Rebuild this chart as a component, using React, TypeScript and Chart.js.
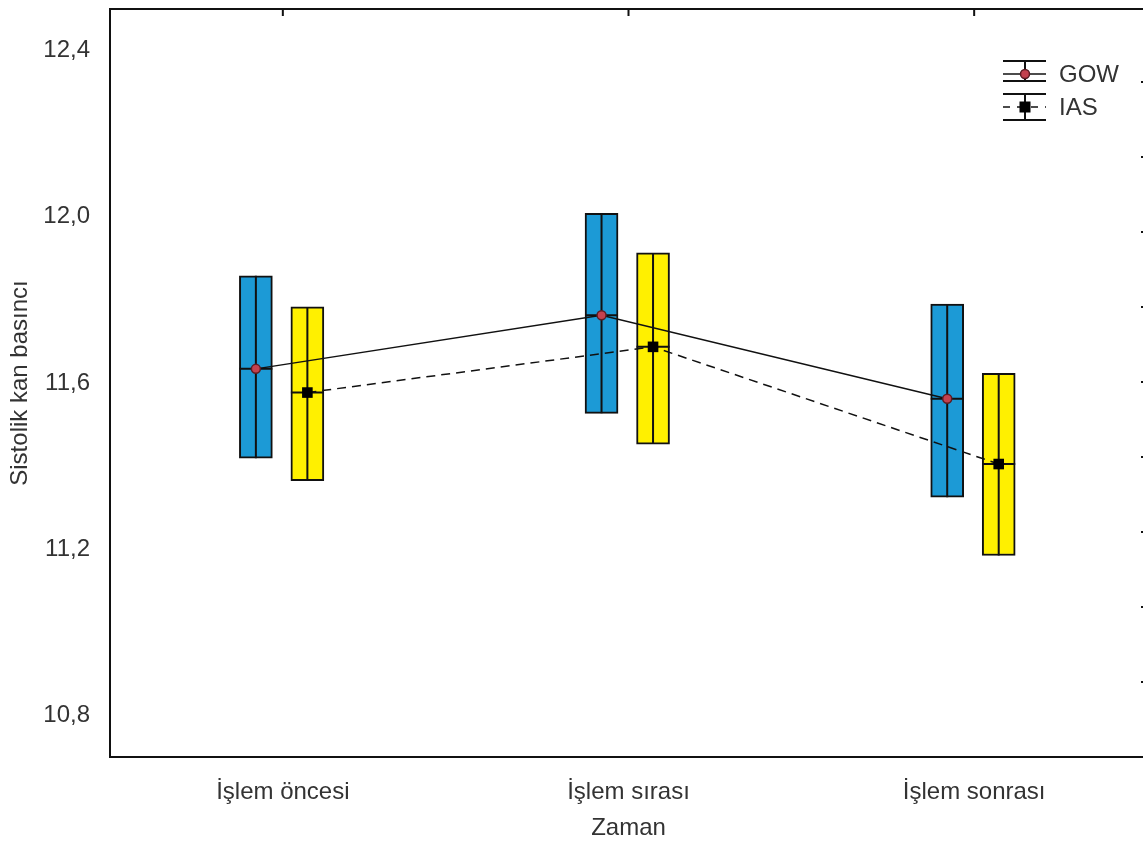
import React, { useEffect, useRef } from 'react';
import { Chart, registerables } from 'chart.js';

Chart.register(...registerables);

// ---- data ----
const categories = ['İşlem öncesi', 'İşlem sırası', 'İşlem sonrası'];
const seriesNames = ['GOW', 'IAS'];
const gowMean = [11.634, 11.763, 11.562];
const gowLow = [11.419, 11.527, 11.325];
const gowHigh = [11.858, 12.008, 11.79];
const iasMean = [11.577, 11.687, 11.405];
const iasLow = [11.365, 11.453, 11.185];
const iasHigh = [11.783, 11.913, 11.623];
const yTicks = [10.8, 11.2, 11.6, 12.0, 12.4];
const rightTicks = [1, 2, 3, 4, 5, 6, 7, 8, 9];
const yTitle = 'Sistolik kan basıncı';
const xTitle = 'Zaman';

// ---- style ----
const FONT = "'Liberation Sans', Arial, Helvetica, sans-serif";
const TEXT = '#333333';
const BLUE = '#1c9ad6';
const YELLOW = '#fff000';
const RED_DOT = '#c4414e';
const OFF_GOW = -0.078;
const OFF_IAS = 0.071;
const CW = 1160;
const CH = 846;

const means = [gowMean, iasMean];

const decorPlugin = {
  id: 'decor',
  afterDatasetDraw(chart: any, args: any) {
    const meta = args.meta;
    if (meta.type !== 'bar') return;
    const ctx = chart.ctx;
    const y = chart.scales.y;
    const m = means[args.index];
    ctx.save();
    ctx.strokeStyle = '#111';
    ctx.lineWidth = 2;
    meta.data.forEach((el: any, i: number) => {
      const p = el.getProps(['x', 'y', 'base', 'width'], true);
      const half = p.width / 2;
      ctx.beginPath();
      ctx.moveTo(p.x, Math.min(p.y, p.base));
      ctx.lineTo(p.x, Math.max(p.y, p.base));
      const my = y.getPixelForValue(m[i]);
      ctx.moveTo(p.x - half, my);
      ctx.lineTo(p.x + half, my);
      ctx.stroke();
    });
    ctx.restore();
  },
  afterDraw(chart: any) {
    const ctx = chart.ctx;
    const a = chart.chartArea;
    const xs = chart.scales.x;
    const y2 = chart.scales.y2;
    ctx.save();
    // frame
    ctx.strokeStyle = '#111';
    ctx.lineWidth = 2;
    ctx.strokeRect(a.left, a.top, a.right - a.left, a.bottom - a.top);
    // top ticks
    ctx.beginPath();
    categories.forEach((_, i) => {
      const px = xs.getPixelForValue(i);
      ctx.moveTo(px, a.top);
      ctx.lineTo(px, a.top + 7);
    });
    // right ticks
    if (y2) {
      rightTicks.forEach((v) => {
        const py = y2.getPixelForValue(v);
        ctx.moveTo(a.right, py);
        ctx.lineTo(a.right - 6, py);
      });
    }
    ctx.stroke();

    // legend
    const lx0 = 1003;
    const lx1 = 1046;
    const lc = 1025;
    const rows = [
      { top: 61, mid: 74, bot: 81 },
      { top: 94, mid: 107, bot: 120 },
    ];
    ctx.lineWidth = 2;
    ctx.strokeStyle = '#111';
    rows.forEach((r, k) => {
      ctx.setLineDash([]);
      ctx.beginPath();
      ctx.moveTo(lx0, r.top);
      ctx.lineTo(lx1, r.top);
      ctx.moveTo(lx0, r.bot);
      ctx.lineTo(lx1, r.bot);
      ctx.moveTo(lc, r.top);
      ctx.lineTo(lc, r.bot);
      ctx.stroke();
      ctx.beginPath();
      if (k === 1) ctx.setLineDash([7, 7]);
      ctx.lineWidth = 1.5;
      ctx.moveTo(lx0, r.mid);
      ctx.lineTo(lx1, r.mid);
      ctx.stroke();
      ctx.setLineDash([]);
      ctx.lineWidth = 2;
      if (k === 0) {
        ctx.beginPath();
        ctx.arc(lc, r.mid, 4.5, 0, Math.PI * 2);
        ctx.fillStyle = RED_DOT;
        ctx.fill();
        ctx.lineWidth = 1.5;
        ctx.strokeStyle = '#5c1b22';
        ctx.stroke();
        ctx.strokeStyle = '#111';
        ctx.lineWidth = 2;
      } else {
        ctx.fillStyle = '#000';
        ctx.fillRect(lc - 5.5, r.mid - 5.5, 11, 11);
      }
      ctx.fillStyle = TEXT;
      ctx.font = `24px ${FONT}`;
      ctx.textAlign = 'left';
      ctx.textBaseline = 'middle';
      ctx.fillText(seriesNames[k], 1059, r.mid + 1);
    });
    ctx.restore();
  },
};

export default function App() {
  const ref = useRef<HTMLCanvasElement | null>(null);

  useEffect(() => {
    document.body.style.margin = '0';
    document.body.style.overflow = 'hidden';
    const canvas = ref.current;
    if (!canvas) return;
    const chart = new Chart(canvas, {
      type: 'bar',
      data: {
        datasets: [
          {
            type: 'bar',
            label: 'GOW box',
            data: categories.map((_, i) => ({ x: i + OFF_GOW, y: [gowLow[i], gowHigh[i]] })) as any,
            backgroundColor: BLUE,
            borderColor: '#111',
            borderWidth: 2,
            borderSkipped: false,
            barThickness: 33,
            grouped: false,
            order: 2,
          } as any,
          {
            type: 'bar',
            label: 'IAS box',
            data: categories.map((_, i) => ({ x: i + OFF_IAS, y: [iasLow[i], iasHigh[i]] })) as any,
            backgroundColor: YELLOW,
            borderColor: '#111',
            borderWidth: 2,
            borderSkipped: false,
            barThickness: 33,
            grouped: false,
            order: 2,
          } as any,
          {
            type: 'line',
            label: seriesNames[0],
            data: categories.map((_, i) => ({ x: i + OFF_GOW, y: gowMean[i] })),
            borderColor: '#111',
            borderWidth: 1.5,
            tension: 0,
            pointStyle: 'circle',
            pointRadius: 4.5,
            pointBackgroundColor: RED_DOT,
            pointBorderColor: '#5c1b22',
            pointBorderWidth: 1.5,
            order: 1,
          } as any,
          {
            type: 'line',
            label: seriesNames[1],
            data: categories.map((_, i) => ({ x: i + OFF_IAS, y: iasMean[i] })),
            borderColor: '#111',
            borderWidth: 1.5,
            borderDash: [9, 6],
            tension: 0,
            pointStyle: 'rect',
            pointRadius: 7.5,
            pointBackgroundColor: '#000',
            pointBorderColor: '#000',
            pointBorderWidth: 0,
            order: 1,
          } as any,
        ],
      },
      options: {
        animation: false,
        responsive: false,
        devicePixelRatio: 1,
        layout: { padding: { top: 9, right: 13, left: 0, bottom: 0 } },
        plugins: { legend: { display: false }, tooltip: { enabled: false } },
        scales: {
          x: {
            type: 'linear',
            min: -0.5,
            max: 2.5,
            offset: false,
            grid: { display: false, offset: false },
            border: { display: false },
            afterBuildTicks: (s: any) => {
              s.ticks = categories.map((_, i) => ({ value: i }));
            },
            afterFit: (s: any) => {
              s.height = 89;
              s.paddingLeft = 0;
              s.paddingRight = 0;
            },
            ticks: {
              autoSkip: false,
              maxRotation: 0,
              padding: 13,
              color: TEXT,
              font: { family: FONT, size: 24 },
              callback: (_v: any, i: number) => categories[i],
            },
            title: {
              display: true,
              text: xTitle,
              color: TEXT,
              font: { family: FONT, size: 24 },
              padding: { top: 0, bottom: 3 },
            },
          },
          y: {
            type: 'linear',
            min: 10.7,
            max: 12.5,
            grid: { display: false },
            border: { display: false },
            afterBuildTicks: (s: any) => {
              s.ticks = yTicks.map((v) => ({ value: v }));
            },
            afterFit: (s: any) => {
              s.width = 110;
              s.paddingTop = 0;
              s.paddingBottom = 0;
            },
            ticks: {
              padding: 12,
              color: TEXT,
              font: { family: FONT, size: 24 },
              callback: (v: any) => Number(v).toFixed(1).replace('.', ','),
            },
            title: {
              display: true,
              text: yTitle,
              color: TEXT,
              font: { family: FONT, size: 24 },
              padding: { top: 6, bottom: 0 },
            },
          },
          y2: {
            type: 'linear',
            display: false,
            min: 0,
            max: 9.973,
          },
        },
      } as any,
      plugins: [decorPlugin],
    });
    return () => chart.destroy();
  }, []);

  return (
    <div style={{ width: 1143, height: 846, overflow: 'hidden', background: '#fff' }}>
      <canvas ref={ref} width={CW} height={CH} style={{ display: 'block', width: CW, height: CH }} />
    </div>
  );
}
